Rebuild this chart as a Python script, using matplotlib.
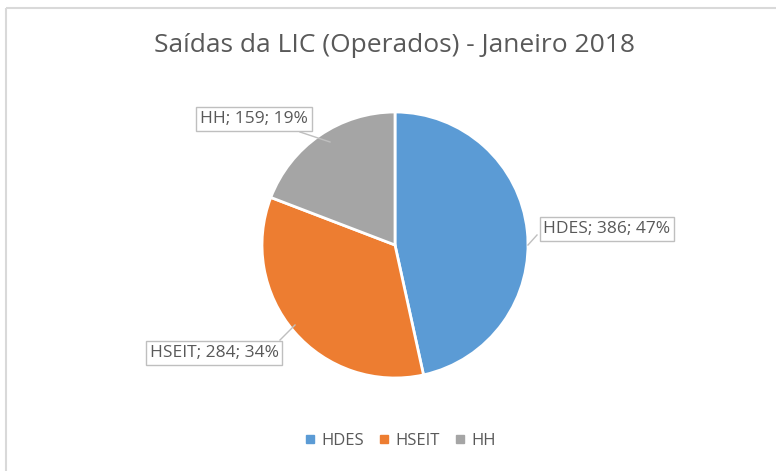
import numpy as np
import matplotlib.pyplot as plt
from matplotlib.lines import Line2D

categories = ["HDES", "HSEIT", "HH"]
values = [386, 284, 159]
colors = ["#5B9BD5", "#ED7D31", "#A5A5A5"]

plt.rcParams['font.family'] = ['Open Sans', 'DejaVu Sans']
text_color = "#595959"

fig = plt.figure(figsize=(7.76, 4.71), dpi=100)
ax = fig.add_axes([0, 0, 1, 1])

# chart border (top / left only visible)
ax.plot([6, 776], [463, 463], color="#D9D9D9", lw=1.5, solid_capstyle='butt')
ax.plot([6, 6], [0, 463], color="#D9D9D9", lw=1.5, solid_capstyle='butt')

# Pie -------------------------------------------------------------
center = (395, 226)
radius = 133
ax.pie(values, colors=colors, startangle=90, counterclock=False,
       center=center, radius=radius, frame=True,
       wedgeprops=dict(edgecolor="white", linewidth=2))
ax.set_xlim(0, 776)
ax.set_ylim(0, 471)
ax.set_aspect('equal')
ax.axis('off')

# data labels (callouts) ------------------------------------------
total = sum(values)
label_pos = {"HDES": (607, 242), "HSEIT": (214, 118), "HH": (254, 352)}
tails = {"HDES": ((537, 236), (528, 226)), "HSEIT": ((280, 131), (295, 146)),
         "HH": ((300, 339), (330, 329))}
for cat, val in zip(categories, values):
    pct = round(100 * val / total)
    x, y = label_pos[cat]
    (x0, y0), (x1, y1) = tails[cat]
    ax.plot([x0, x1], [y0, y1], color="#BFBFBF", lw=1)
    ax.text(x, y, f"{cat}; {val}; {pct}%", ha="center", va="center",
            fontsize=12.5, color=text_color,
            bbox=dict(boxstyle="square,pad=0.22", fc="white", ec="#BFBFBF", lw=1))

ax.text(395, 426, "Saídas da LIC (Operados) - Janeiro 2018", ha="center",
        va="center", fontsize=19, color=text_color)

handles = [Line2D([], [], marker='s', linestyle='none', markersize=5.5,
                  markerfacecolor=c, markeredgecolor=c) for c in colors]
ax.legend(handles, categories, loc="center", bbox_to_anchor=(400 / 776, 30 / 471),
          ncol=3, frameon=False, fontsize=12, labelcolor=text_color,
          handletextpad=0.3, columnspacing=0.9, handlelength=0.7)

fig.savefig("out.png", dpi=100, facecolor="white")
